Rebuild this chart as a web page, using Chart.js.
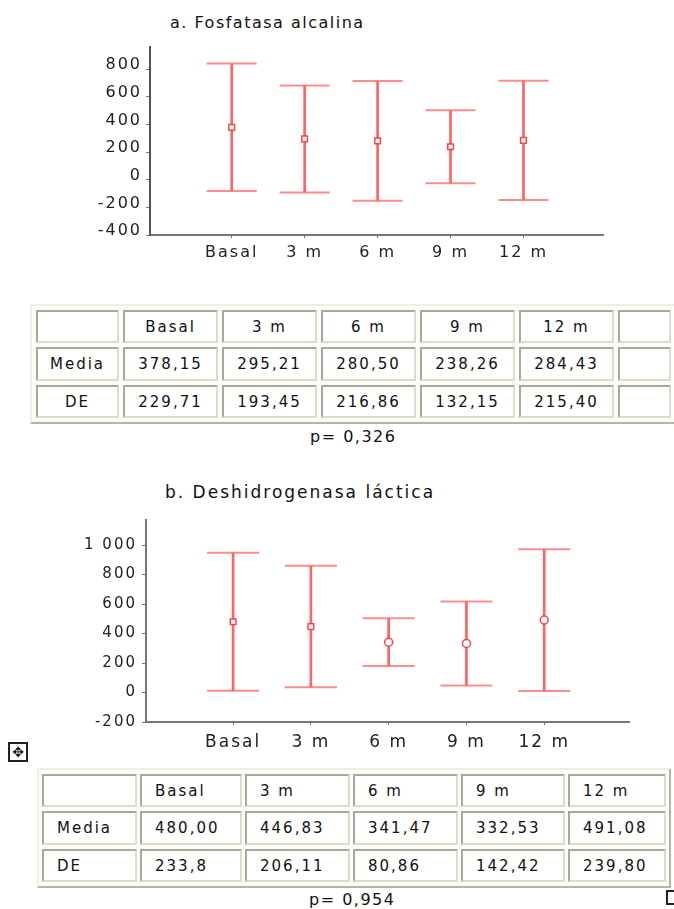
<!DOCTYPE html>
<html>
<head>
<meta charset="utf-8">
<script src="https://cdn.jsdelivr.net/npm/chart.js@4"></script>
<style>
  html, body { margin: 0; padding: 0; background: #fff; }
  body { position: relative; width: 674px; height: 909px; overflow: hidden; font-family: 'DejaVu Sans', sans-serif; color: #111; }
  .abs { position: absolute; }
  .title { font-size: 16px; letter-spacing: 1.5px; white-space: nowrap; }
  .pval { font-size: 16px; letter-spacing: 1.5px; white-space: nowrap; }
  table.t { position: absolute; border-collapse: separate; width: max-content; background: #fdfdfa;
            border: 2px solid; border-color: #f1efe2 #b8b4a4 #b8b4a4 #f1efe2; }
  table.t td { border: 2px solid; border-color: #aca899 #dedbcc #dedbcc #aca899; background: #fff;
               padding: 0; font-size: 15px; letter-spacing: 2px; white-space: nowrap; overflow: hidden; }
  #tabA td { text-align: center; }
  #tabB td { text-align: left; padding-left: 13px; }
  #move { left: 8px; top: 742px; width: 16px; height: 16px; border: 2px solid #222; background: #fff;
          font-size: 14px; line-height: 16px; text-align: center; }
  #grip { left: 666px; top: 890px; width: 10px; height: 11px; border: 2px solid #222; background: #fff; }
</style>
</head>
<body>
<div class="abs title" style="left:170px; top:13px;">a. Fosfatasa alcalina</div>
<canvas id="chartA" class="abs" width="674" height="230" style="left:0; top:40px;"></canvas>
<table id="tabA" class="t" style="left:30px; top:304px; border-spacing:4px 4px;"></table>
<div class="abs pval" style="left:310px; top:427px;">p= 0,326</div>

<div class="abs title" style="left:165px; top:482px; font-size:17px; letter-spacing:2px;">b. Deshidrogenasa láctica</div>
<canvas id="chartB" class="abs" width="674" height="250" style="left:0; top:510px;"></canvas>
<div id="move" class="abs">✥</div>
<table id="tabB" class="t" style="left:37px; top:768px; border-spacing:3px 4px;"></table>
<div class="abs pval" style="left:309px; top:890px;">p= 0,954</div>
<div id="grip" class="abs"></div>

<script>
// categorias (eje x y cabecera de tabla)
const cats = ['Basal', '3 m', '6 m', '9 m', '12 m'];

// a. Fosfatasa alcalina
const faMedia = ['378,15', '295,21', '280,50', '238,26', '284,43'];
const faDE = ['229,71', '193,45', '216,86', '132,15', '215,40'];
const faHigh = [840, 682, 714, 502, 715];   // extremo superior de la barra
const faLow = [-82, -92, -153, -26, -146];  // extremo inferior
const faTicks = [-400, -200, 0, 200, 400, 600, 800];

// b. Deshidrogenasa lactica
const ldhMedia = ['480,00', '446,83', '341,47', '332,53', '491,08'];
const ldhDE = ['233,8', '206,11', '80,86', '142,42', '239,80'];
const ldhHigh = [948, 859, 503, 617, 971];
const ldhLow = [12, 35, 180, 48, 11];
const ldhTicks = [-200, 0, 200, 400, 600, 800, 1000];

const num = s => parseFloat(s.replace(',', '.'));
const fmt = v => String(v).replace(/\B(?=(\d{3})+(?!\d))/g, ' ');

// espaciado de letras del canvas, como el original
const spacing = {
  id: 'spacing',
  beforeDraw(chart, args, opts) { chart.ctx.letterSpacing = opts.px || '0px'; }
};

function errorChart(id, media, high, low, yTicks, g) {
  const pts = arr => arr.map((v, i) => ({ x: i + 1, y: v }));
  const tickFont = { family: 'DejaVu Sans', size: g.fs };
  return new Chart(document.getElementById(id), {
    type: 'bar',
    plugins: [spacing],
    data: {
      datasets: [
        { type: 'scatter', data: pts(media.map(num)), order: 0,
          pointStyle: g.marks, pointRadius: 4, pointBorderWidth: 1.5,
          pointBorderColor: 'rgba(255,50,50,0.9)', pointBackgroundColor: '#fff' },
        { type: 'scatter', data: pts(high), order: 1,
          pointStyle: 'line', pointRadius: g.cap, pointBorderWidth: 2,
          pointBorderColor: 'rgba(255,110,110,0.8)' },
        { type: 'scatter', data: pts(low), order: 1,
          pointStyle: 'line', pointRadius: g.cap, pointBorderWidth: 2,
          pointBorderColor: 'rgba(255,110,110,0.8)' },
        { type: 'bar', data: high.map((v, i) => ({ x: i + 1, y: [low[i], v] })), order: 2,
          barThickness: 2, backgroundColor: 'rgba(255,60,60,0.8)', borderWidth: 0 }
      ]
    },
    options: {
      responsive: false,
      animation: false,
      events: [],
      layout: { autoPadding: false, padding: { top: g.padTop, right: g.padRight, left: 0, bottom: 0 } },
      plugins: {
        legend: { display: false },
        tooltip: { enabled: false },
        spacing: { px: '2px' }
      },
      scales: {
        x: {
          type: 'linear', min: -0.12, max: 6.09, offset: false,
          afterBuildTicks: s => { s.ticks = cats.map((c, i) => ({ value: i + 1 })); },
          afterFit: s => { s.height = g.xHeight; },
          grid: { drawOnChartArea: false, drawTicks: true, tickLength: 3, offset: false, color: '#777' },
          border: { color: '#777', width: 2 },
          ticks: { callback: v => cats[v - 1], autoSkip: false, maxRotation: 0,
                   padding: g.xPad, color: '#222', font: { family: 'DejaVu Sans', size: g.xfs } }
        },
        y: {
          min: yTicks[0], max: g.yMax,
          afterBuildTicks: s => { s.ticks = yTicks.map(v => ({ value: v })); },
          afterFit: s => { s.width = g.yWidth; s.paddingTop = 0; s.paddingBottom = 0; },
          grid: { drawOnChartArea: false, drawTicks: true, tickLength: 4, color: '#777' },
          border: { color: g.yAxisColor, width: 2 },
          ticks: { callback: v => fmt(v), padding: g.yPad, labelOffset: g.yOff, color: '#222', font: tickFont }
        }
      }
    }
  });
}

errorChart('chartA', faMedia, faHigh, faLow, faTicks, {
  marks: 'rect', cap: 25, padTop: 7, padRight: 71, xHeight: 35, yWidth: 150,
  yMax: 960, fs: 16, xfs: 16, xPad: 5, yPad: 4, yOff: -4, yAxisColor: '#555'
});
errorChart('chartB', ldhMedia, ldhHigh, ldhLow, ldhTicks, {
  marks: ['rect', 'rect', 'circle', 'circle', 'circle'], cap: 26, padTop: 10, padRight: 45,
  xHeight: 38, yWidth: 146, yMax: 1170, fs: 15, xfs: 17, xPad: 7, yPad: 5, yOff: 0, yAxisColor: '#777'
});

// tablas construidas con los mismos datos
function buildTable(id, rows, widths, heights) {
  const t = document.getElementById(id);
  rows.forEach((row, r) => {
    const tr = t.insertRow();
    row.forEach((txt, c) => {
      const td = tr.insertCell();
      td.textContent = txt;
      td.style.width = widths[c] + 'px';
      td.style.minWidth = widths[c] + 'px';
      td.style.maxWidth = widths[c] + 'px';
      td.style.height = heights[r] + 'px';
    });
  });
}

buildTable('tabA',
  [['', ...cats, ''], ['Media', ...faMedia, ''], ['DE', ...faDE, '']],
  [79, 91, 91, 91, 91, 91, 49], [29, 30, 29]);
buildTable('tabB',
  [['', ...cats], ['Media', ...ldhMedia], ['DE', ...ldhDE]],
  [78, 85, 88, 88, 87, 81], [29, 30, 29]);
</script>
</body>
</html>
